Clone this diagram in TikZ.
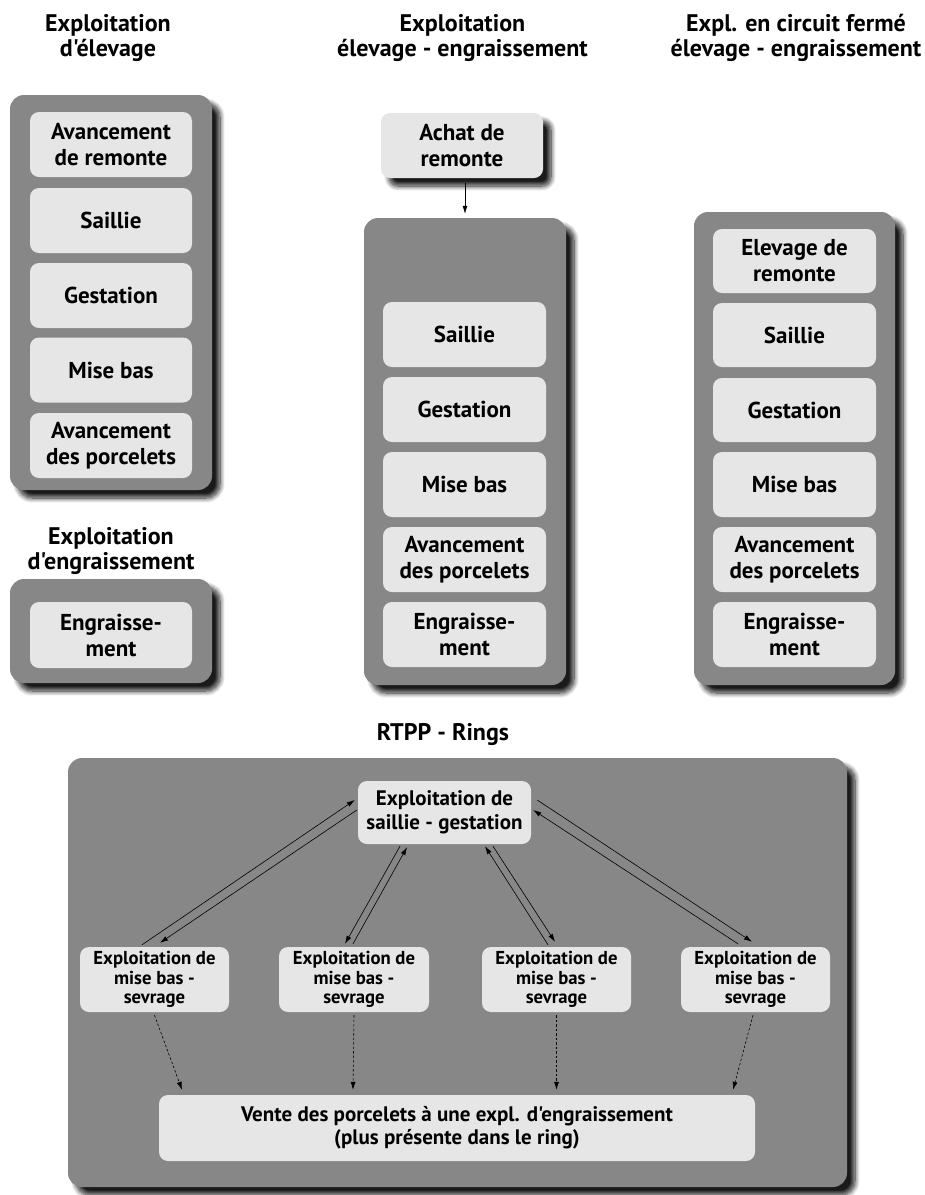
\documentclass[tikz,border=0pt]{standalone}
\usepackage{fontspec}
\setmainfont{PT Sans}[Ligatures=TeXOff]
\usetikzlibrary{shadows.blur,arrows.meta,calc}
\definecolor{outerg}{HTML}{878787}
\definecolor{innerg}{HTML}{E6E6E6}
\tikzset{
  outerbox/.style={fill=outerg, rounded corners=14pt, draw=none,
    blur shadow={shadow xshift=8pt, shadow yshift=-8pt, shadow blur steps=10, shadow opacity=90, shadow blur radius=5pt}},
  innerbox/.style={fill=innerg, rounded corners=9pt, draw=none, align=center,
    font=\fontsize{23}{26}\selectfont\bfseries, inner sep=0pt},
  smallbox/.style={innerbox, font=\fontsize{18.7}{19.5}\selectfont\bfseries},
  header/.style={align=center, font=\fontsize{24}{25.5}\selectfont\bfseries, inner sep=0pt},
  arr/.style={-{Latex[length=8pt,width=5pt]}, line width=0.6pt},
  darr/.style={-{Latex[length=8pt,width=5pt]}, line width=0.6pt, dash pattern=on 2.5pt off 2pt},
}
\begin{document}
\begin{tikzpicture}[x=1pt,y=-1pt]
\useasboundingbox (0,0) rectangle (925,1195);
% headers
\node[header] (h1) at (108,38) {Exploitation\\d'élevage};
\node[header] (h2) at (462.5,38) {Exploitation\\élevage - engraissement};
\node[header] (h3) at (796,38) {Expl. en circuit fermé\\élevage - engraissement};
\node[header] (h4) at (111,551) {Exploitation\\d'engraissement};
\node[header] (h5) at (443,735) {RTPP - Rings};
% left column
\node[outerbox, minimum width=202pt, minimum height=395pt] (L) at (111,292.5) {};
\node[innerbox, minimum width=162pt, minimum height=65pt] (l1) at (111,144.5) {Avancement\\de remonte};
\node[innerbox, minimum width=162pt, minimum height=65pt] (l2) at (111,220.5) {Saillie};
\node[innerbox, minimum width=162pt, minimum height=65pt] (l3) at (111,295.5) {Gestation};
\node[innerbox, minimum width=162pt, minimum height=65pt] (l4) at (111,370) {Mise bas};
\node[innerbox, minimum width=162pt, minimum height=65pt] (l5) at (111,445.5) {Avancement\\des porcelets};
\node[outerbox, minimum width=202pt, minimum height=104pt] (E) at (111,631) {};
\node[innerbox, minimum width=162pt, minimum height=66pt] (e1) at (111,635) {Engraisse-\\ment};
% middle column
\node[innerbox, minimum width=162pt, minimum height=65pt,
  blur shadow={shadow xshift=8pt, shadow yshift=-8pt, shadow blur steps=10, shadow opacity=90, shadow blur radius=5pt}] (ach) at (462,145.5) {Achat de\\remonte};
\node[outerbox, minimum width=202pt, minimum height=467pt] (M) at (465,451.5) {};
\node[innerbox, minimum width=163pt, minimum height=65pt] (m1) at (464.5,334.5) {Saillie};
\node[innerbox, minimum width=163pt, minimum height=65pt] (m2) at (464.5,409.5) {Gestation};
\node[innerbox, minimum width=163pt, minimum height=65pt] (m3) at (464.5,484.5) {Mise bas};
\node[innerbox, minimum width=163pt, minimum height=65pt] (m4) at (464.5,559.5) {Avancement\\des porcelets};
\node[innerbox, minimum width=163pt, minimum height=65pt] (m5) at (464.5,634.5) {Engraisse-\\ment};
\draw[arr] ([yshift=-5pt]ach.south -| 465,0) -- ([yshift=4pt]M.north -| 465,0);
% right column
\node[outerbox, minimum width=201pt, minimum height=473pt] (R) at (794.5,448.5) {};
\node[innerbox, minimum width=163pt, minimum height=64pt] (r1) at (794.5,261) {Elevage de\\remonte};
\node[innerbox, minimum width=163pt, minimum height=64pt] (r2) at (794.5,335) {Saillie};
\node[innerbox, minimum width=163pt, minimum height=64pt] (r3) at (794.5,410) {Gestation};
\node[innerbox, minimum width=163pt, minimum height=65pt] (r4) at (794.5,484.5) {Mise bas};
\node[innerbox, minimum width=163pt, minimum height=65pt] (r5) at (794.5,559.5) {Avancement\\des porcelets};
\node[innerbox, minimum width=163pt, minimum height=65pt] (r6) at (794.5,634.5) {Engraisse-\\ment};
% rings
\node[outerbox, minimum width=779pt, minimum height=429pt] (B) at (457.5,972.5) {};
\node[innerbox, minimum width=173pt, minimum height=63pt, font=\fontsize{21}{24}\selectfont\bfseries] (top) at (444.5,812.5) {Exploitation de\\saillie - gestation};
\node[smallbox, minimum width=149pt, minimum height=65pt] (s1) at (154.5,979.5) {Exploitation de\\mise bas -\\sevrage};
\node[smallbox, minimum width=150pt, minimum height=65pt] (s2) at (354,979.5) {Exploitation de\\mise bas -\\sevrage};
\node[smallbox, minimum width=149pt, minimum height=65pt] (s3) at (556.5,979.5) {Exploitation de\\mise bas -\\sevrage};
\node[smallbox, minimum width=149pt, minimum height=65pt] (s4) at (755.5,979.5) {Exploitation de\\mise bas -\\sevrage};
\node[innerbox, minimum width=596pt, minimum height=66pt, font=\fontsize{21}{23}\selectfont\bfseries] (v) at (457,1128) {Vente des porcelets à une expl. d'engraissement\\(plus présente dans le ring)};
% ring arrows
\draw[arr] ([xshift=-12.5pt,yshift=2pt]s1.north) -- ([xshift=-3pt,yshift=12.5pt]top.west);
\draw[arr] ([xshift=-1pt,yshift=2.5pt]top.west) -- ([xshift=5.5pt,yshift=4pt]s1.north);
\draw[arr] ([xshift=-44.5pt,yshift=-2pt]top.south) -- ([xshift=-9pt,yshift=3pt]s2.north);
\draw[arr] ([xshift=-1pt,yshift=3pt]s2.north) -- ([xshift=-37.5pt,yshift=-3pt]top.south);
\draw[arr] ([xshift=-8.5pt,yshift=2pt]s3.north) -- ([xshift=40.5pt,yshift=-2pt]top.south);
\draw[arr] ([xshift=48.5pt,yshift=-2pt]top.south) -- ([xshift=-1.5pt,yshift=5pt]s3.north);
\draw[arr] ([xshift=6pt,yshift=12.5pt]top.east) -- ([xshift=-3.5pt,yshift=5pt]s4.north);
\draw[arr] ([xshift=-17.5pt,yshift=3pt]s4.north) -- ([xshift=2pt,yshift=2.5pt]top.east);
% dashed arrows
\draw[darr] ([yshift=-3pt]s1.south) -- ([xshift=-275pt,yshift=5pt]v.north);
\draw[darr] ([yshift=-3pt]s2.south) -- ([xshift=-104pt,yshift=5pt]v.north);
\draw[darr] ([yshift=-3pt]s3.south) -- ([xshift=99.5pt,yshift=5pt]v.north);
\draw[darr] ([xshift=-2.5pt,yshift=-3pt]s4.south) -- ([xshift=276pt,yshift=5pt]v.north);
\end{tikzpicture}
\end{document}
